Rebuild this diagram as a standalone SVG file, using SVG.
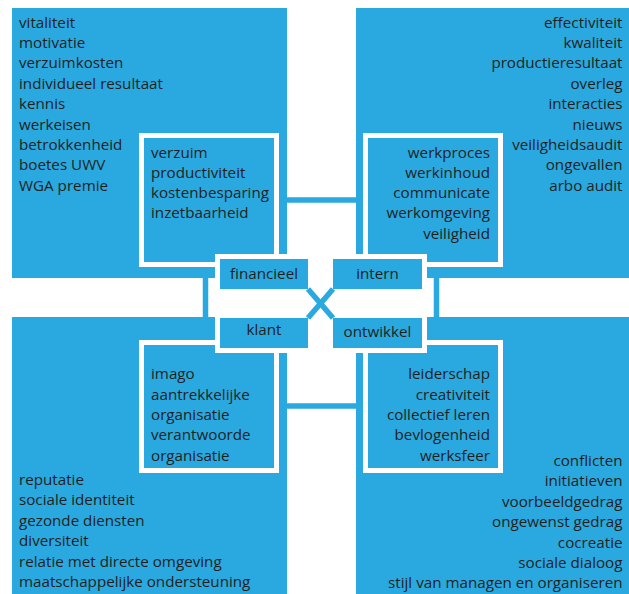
<svg xmlns="http://www.w3.org/2000/svg" width="629" height="594" viewBox="0 0 629 594">
<style>
.big{fill:#29a9e0}
.inner{fill:#29a9e0;stroke:#fff;stroke-width:5}
.lab{fill:#29a9e0;stroke:#fff;stroke-width:5}
text{font-family:"Open Sans","Liberation Sans",sans-serif;font-size:15.2px;fill:#231f20}
.r{text-anchor:end}
.c{text-anchor:middle}
.con{stroke:#29a9e0;stroke-width:5.5;fill:none}
</style>
<rect width="629" height="594" fill="#fff"/>
<g id="q-tl">
<rect class="big" x="12" y="8" width="275" height="270"/>
<text x="19" y="27.5">vitaliteit</text>
<text x="19" y="47.9">motivatie</text>
<text x="19" y="68.3">verzuimkosten</text>
<text x="19" y="88.7">individueel resultaat</text>
<text x="19" y="109.1">kennis</text>
<text x="19" y="129.5">werkeisen</text>
<text x="19" y="149.9">betrokkenheid</text>
<text x="19" y="170.3">boetes UWV</text>
<text x="19" y="190.7">WGA premie</text>
</g>
<g id="q-tr">
<rect class="big" x="356" y="8" width="273" height="270"/>
<text class="r" x="622.5" y="27.5">effectiviteit</text>
<text class="r" x="622.5" y="47.9">kwaliteit</text>
<text class="r" x="622.5" y="68.3">productieresultaat</text>
<text class="r" x="622.5" y="88.7">overleg</text>
<text class="r" x="622.5" y="109.1">interacties</text>
<text class="r" x="622.5" y="129.5">nieuws</text>
<text class="r" x="622.5" y="149.9">veiligheidsaudit</text>
<text class="r" x="622.5" y="170.3">ongevallen</text>
<text class="r" x="622.5" y="190.7">arbo audit</text>
</g>
<g id="q-bl">
<rect class="big" x="12" y="317" width="275" height="277"/>
<text x="19" y="485">reputatie</text>
<text x="19" y="505.4">sociale identiteit</text>
<text x="19" y="525.8">gezonde diensten</text>
<text x="19" y="546.2">diversiteit</text>
<text x="19" y="566.6">relatie met directe omgeving</text>
<text x="19" y="587">maatschappelijke ondersteuning</text>
</g>
<g id="q-br">
<rect class="big" x="356" y="317" width="273" height="277"/>
<text class="r" x="622.5" y="466">conflicten</text>
<text class="r" x="622.5" y="486.4">initiatieven</text>
<text class="r" x="622.5" y="506.8">voorbeeldgedrag</text>
<text class="r" x="622.5" y="527.2">ongewenst gedrag</text>
<text class="r" x="622.5" y="547.6">cocreatie</text>
<text class="r" x="622.5" y="568">sociale dialoog</text>
<text class="r" x="622.5" y="588.4">stijl van managen en organiseren</text>
</g>
<g id="in-tl">
<rect class="inner" x="141.5" y="135.5" width="135" height="129"/>
<text x="151" y="157.8">verzuim</text>
<text x="151" y="178">productiviteit</text>
<text x="151" y="198.2">kostenbesparing</text>
<text x="151" y="218.4">inzetbaarheid</text>
</g>
<g id="in-tr">
<rect class="inner" x="365.5" y="135.5" width="135" height="129"/>
<text class="r" x="490" y="157.8">werkproces</text>
<text class="r" x="490" y="178">werkinhoud</text>
<text class="r" x="490" y="198.2">communicate</text>
<text class="r" x="490" y="218.4">werkomgeving</text>
<text class="r" x="490" y="238.6">veiligheid</text>
</g>
<g id="in-bl">
<rect class="inner" x="141.5" y="342.5" width="135" height="128"/>
<text x="151" y="379.3">imago</text>
<text x="151" y="399.6">aantrekkelijke</text>
<text x="151" y="419.9">organisatie</text>
<text x="151" y="440.2">verantwoorde</text>
<text x="151" y="460.5">organisatie</text>
</g>
<g id="in-br">
<rect class="inner" x="365.5" y="342.5" width="135" height="128"/>
<text class="r" x="490" y="379.3">leiderschap</text>
<text class="r" x="490" y="399.6">creativiteit</text>
<text class="r" x="490" y="419.9">collectief leren</text>
<text class="r" x="490" y="440.2">bevlogenheid</text>
<text class="r" x="490" y="460.5">werksfeer</text>
</g>
<g id="lab-financieel">
<rect class="lab" x="217.5" y="256.5" width="93" height="35"/>
<text class="c" x="264" y="279">financieel</text>
</g>
<g id="lab-intern">
<rect class="lab" x="330.5" y="256.5" width="94" height="35"/>
<text class="c" x="377.5" y="279">intern</text>
</g>
<g id="lab-klant">
<rect class="lab" x="217.5" y="315.5" width="93" height="35"/>
<text class="c" x="264" y="335">klant</text>
</g>
<g id="lab-ontwikkel">
<rect class="lab" x="330.5" y="315.5" width="94" height="35"/>
<text class="c" x="377.5" y="337">ontwikkel</text>
</g>
<g id="connectors">
<line class="con" x1="287" y1="200" x2="356" y2="200"/>
<line class="con" x1="287" y1="406" x2="356" y2="406"/>
<line class="con" x1="205.5" y1="278" x2="205.5" y2="317"/>
<line class="con" x1="436.5" y1="278" x2="436.5" y2="317"/>
<line class="con" x1="308" y1="289" x2="333" y2="318"/>
<line class="con" x1="333" y1="289" x2="308" y2="318"/>
</g>
</svg>
